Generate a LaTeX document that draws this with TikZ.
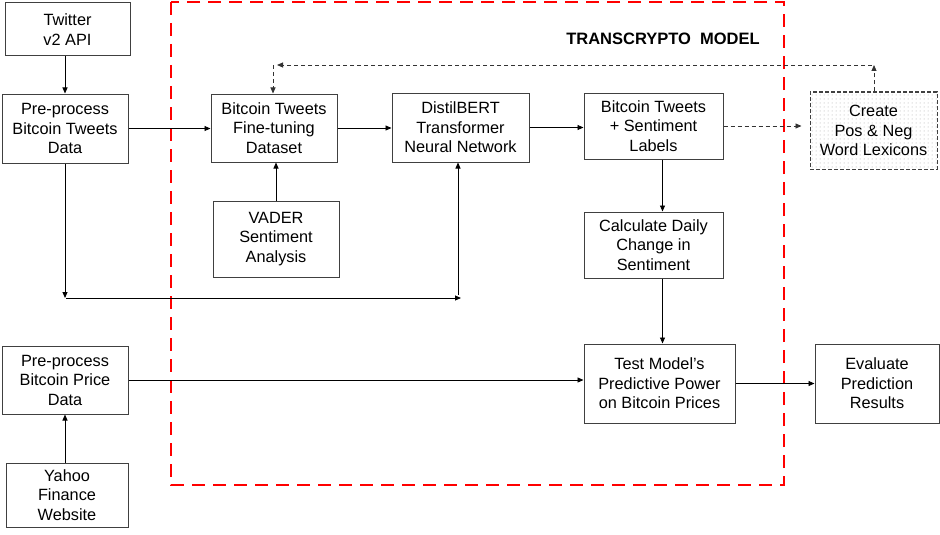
\documentclass[tikz,border=0pt]{standalone}
\usepackage{fontspec}
\setmainfont{Liberation Sans}
\usetikzlibrary{arrows.meta,patterns}
\pgfdeclarepatternformonly{sparsedots}{\pgfqpoint{-1pt}{-1pt}}{\pgfqpoint{1pt}{1pt}}{\pgfqpoint{4pt}{4pt}}{\pgfpathcircle{\pgfqpoint{0pt}{0pt}}{0.5pt}\pgfusepath{fill}}
\begin{document}
\begin{tikzpicture}[x=1pt,y=-1pt,
  box/.style={draw=black!75, line width=1pt, align=center, inner sep=0pt,
    font=\fontsize{16.3}{19.5}\selectfont},
  arr/.style={line width=0.9pt, -{Triangle[length=6pt,width=5pt]}},
  dasharr/.style={arr, dash pattern=on 4pt off 3pt, draw=black!80},
  redframe/.style={draw=red, line width=2.5pt, dash pattern=on 13pt off 8pt},
  lexbox/.style={box, dash pattern=on 4pt off 2pt, pattern=sparsedots, pattern color=black!35}
]
\useasboundingbox (0,0) rectangle (940,535);

% red model frame
\draw[redframe] (171,2) rectangle (784,485);
\node[font=\fontsize{16.5}{19}\selectfont\bfseries] (title) at (663,39) {TRANSCRYPTO\ \ MODEL};

% nodes
\node[box, minimum width=125pt, minimum height=53pt] (tw) at (67.5,29.5) {Twitter\\v2 API};
\node[box, minimum width=126pt, minimum height=69pt] (pt) at (65,128.5) {Pre-process\\Bitcoin Tweets\\Data};
\node[box, minimum width=126pt, minimum height=68pt] (ft) at (274,128) {Bitcoin Tweets\\Fine-tuning\\Dataset};
\node[box, minimum width=126pt, minimum height=76pt] (va) at (276,239) {VADER\\Sentiment\\Analysis};
\node[box, minimum width=137pt, minimum height=69pt] (db) at (460.5,127.5) {DistilBERT\\Transformer\\Neural Network};
\node[box, minimum width=139pt, minimum height=66pt] (sl) at (653.5,126) {Bitcoin Tweets\\+ Sentiment\\Labels};
\node[box, minimum width=139pt, minimum height=66pt] (cd) at (653.5,245) {Calculate Daily\\Change in\\Sentiment};
\node[lexbox, minimum width=127pt, minimum height=77pt] (cr) at (873.5,130.5) {Create\\Pos \& Neg\\Word Lexicons};
\node[box, minimum width=151pt, minimum height=79pt] (tm) at (659.5,383.5) {Test Model’s\\Predictive Power\\on Bitcoin Prices};
\node[box, minimum width=124pt, minimum height=79pt] (ev) at (877,383.5) {Evaluate\\Prediction\\Results};
\node[box, minimum width=126pt, minimum height=68pt] (pp) at (65,380) {Pre-process\\Bitcoin Price\\Data};
\node[box, minimum width=122pt, minimum height=64pt] (ya) at (67,495) {Yahoo\\Finance\\Website};

% helper coordinates
\coordinate (j1) at (65,298);
\coordinate (j2) at (461,298);
\coordinate (j3) at (458,295);
\coordinate (fbr) at (874,65);
\coordinate (fbl) at (275,65);

% connectors
\draw[arr] (tw.south -| pt.north) -- (pt.north);
\draw[arr] (pt.east) -- (pt.east -| ft.west);
\draw[arr] (va.north) -- (va.north |- ft.south);
\draw[arr] (ft.east) -- (ft.east -| db.west);
\draw[arr] (db.east) -- (db.east -| sl.west);
\draw[dasharr] (sl.east) -- ([xshift=-8pt]sl.east -| cr.west);
\draw[arr] ([xshift=9pt]sl.south) -- ([xshift=9pt]sl.south |- cd.north);
\draw[arr] ([xshift=9pt]cd.south) -- ([xshift=9pt]cd.south |- tm.north);
\draw[arr] (pp.east) -- (pp.east -| tm.west);
\draw[arr] (tm.east) -- (tm.east -| ev.west);
\draw[arr] (ya.north -| pp.south) -- (pp.south);
\draw[arr] (pt.south) -- (j1);
\draw[arr] ([xshift=1pt]j1) -- (j2);
\draw[arr] (j3) -- (j3 |- db.south);
% feedback loop
\draw[dasharr] (cr.north -| fbr) -- (fbr);
\draw[dasharr] ([xshift=-2pt]fbr) -- ([xshift=2pt]fbl);
\draw[dasharr] ([xshift=-2pt]fbl) -- ([xshift=-2pt]fbl |- ft.north);
\end{tikzpicture}
\end{document}
